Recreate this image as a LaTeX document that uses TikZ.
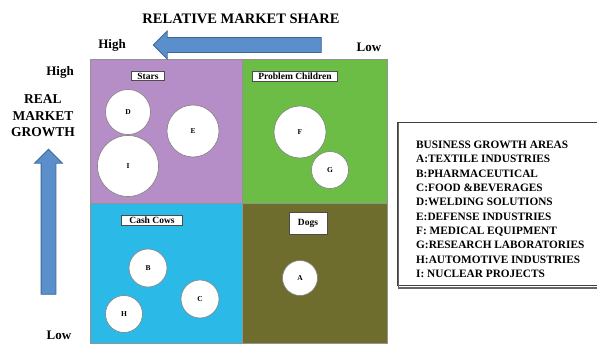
\documentclass[tikz,border=0pt]{standalone}
\usepackage{fontspec}
\setmainfont{Liberation Serif}
\usetikzlibrary{shapes,arrows}
\definecolor{starpurple}{RGB}{181,141,199}
\definecolor{childgreen}{RGB}{108,189,69}
\definecolor{cowblue}{RGB}{43,186,232}
\definecolor{dogolive}{RGB}{110,109,46}
\definecolor{arrowblue}{RGB}{91,143,203}
\definecolor{arrowedge}{RGB}{60,105,150}
\tikzstyle{quad} = [rectangle, draw=gray!85, line width=0.6pt, anchor=north west,
    inner sep=0pt]
\tikzstyle{tag} = [rectangle, draw=gray!60!black, fill=white, line width=0.6pt,
    font=\bfseries\fontsize{9.5}{11}\selectfont, inner xsep=6pt, inner ysep=1.5pt]
\tikzstyle{firm} = [circle, draw=gray, fill=white, line width=0.6pt,
    font=\bfseries\fontsize{7.5}{9}\selectfont, inner sep=0pt]
\tikzstyle{axis} = [font=\bfseries\fontsize{13}{16}\selectfont, inner sep=0pt]
\tikzstyle{bigarrow} = [single arrow, draw=arrowedge, fill=arrowblue, line width=0.8pt,
    inner xsep=0pt, inner ysep=7pt, single arrow head extend=6.5pt]

\begin{document}
\begin{tikzpicture}[x=1pt, y=-1pt]
    \useasboundingbox (0,0) rectangle (597,348);
    % Place quadrants
    \node [quad, fill=starpurple, minimum width=152, minimum height=144] (stars) at (90,59) {};
    \node [quad, fill=childgreen, minimum width=145, minimum height=144] (children) at (242,59) {};
    \node [quad, fill=cowblue, minimum width=152, minimum height=140] (cows) at (90,203) {};
    \node [quad, fill=dogolive, minimum width=145, minimum height=140] (dogs) at (242,203) {};
    % Quadrant names
    \node [tag] (starstag) at (148,76) {Stars};
    \node [tag] (childtag) at (295,76) {Problem Children};
    \node [tag, inner xsep=8pt] (cowtag) at (152,220) {Cash Cows};
    \node [tag, minimum width=38, minimum height=22] (dogtag) at (308,223) {Dogs};
    % Business areas
    \node [firm, minimum size=45] (D) at (128,112) {D};
    \node [firm, minimum size=52] (E) at (193,131) {E};
    \node [firm, minimum size=61] (I) at (128,166) {I};
    \node [firm, minimum size=52] (F) at (300,132) {F};
    \node [firm, minimum size=37] (G) at (330,170) {G};
    \node [firm, minimum size=38] (B) at (148,268) {B};
    \node [firm, minimum size=38] (C) at (200,299) {C};
    \node [firm, minimum size=37] (H) at (124,314) {H};
    \node [firm, minimum size=35] (A) at (300,278) {A};
    % Axes
    \node [axis, font=\bfseries\fontsize{14.5}{16}\selectfont] (share) at (241,19) {RELATIVE MARKET SHARE};
    \node [axis] (sharehigh) at (112,45) {High};
    \node [axis] (sharelow) at (369,47) {Low};
    \node [bigarrow, rotate=180, minimum height=168] (sharearrow) at (241,45) {};
    \node [axis] (growthhigh) at (60,72) {High};
    \node [axis, align=center, font=\bfseries\fontsize{13.5}{16.5}\selectfont] (growth) at (43,116) {REAL\\MARKET\\GROWTH};
    \node [bigarrow, rotate=90, minimum height=145] (growtharrow) at (48.5,225.5) {};
    \node [axis] (growthlow) at (59,335) {Low};
    % Legend
    \draw [black!75, line width=0.8pt] (600,122) -- (397,122) -- (397,285) -- (600,285);
    \draw [black!60, line width=1.2pt] (398.5,123) -- (398.5,288) -- (600,288);
    \node [anchor=north west, align=left, inner sep=0pt,
        font=\bfseries\fontsize{11.3}{14.3}\selectfont] (areas) at (416,141) {%
        BUSINESS GROWTH AREAS\\
        A:TEXTILE INDUSTRIES\\
        B:PHARMACEUTICAL\\
        C:FOOD \&BEVERAGES\\
        D:WELDING SOLUTIONS\\
        E:DEFENSE INDUSTRIES\\
        F: MEDICAL EQUIPMENT\\
        G:RESEARCH LABORATORIES\\
        H:AUTOMOTIVE INDUSTRIES\\
        I: NUCLEAR PROJECTS};
\end{tikzpicture}
\end{document}
